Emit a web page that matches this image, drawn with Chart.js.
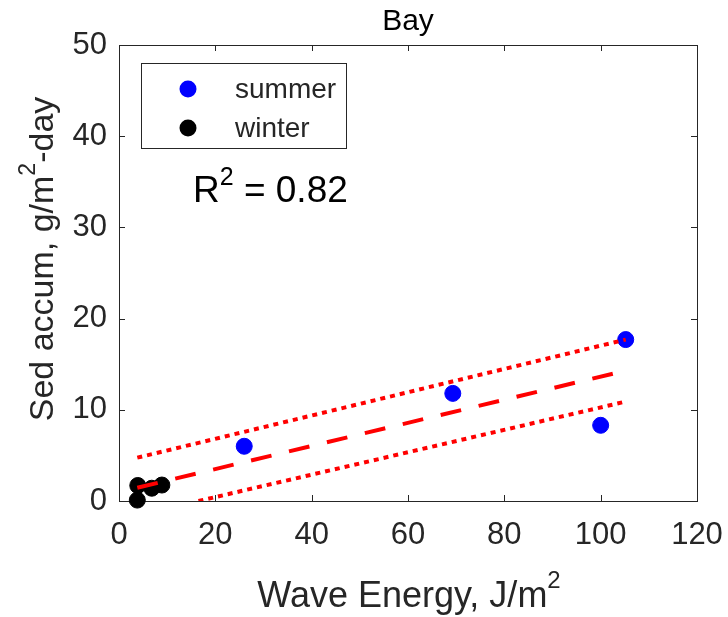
<!DOCTYPE html>
<html>
<head>
<meta charset="utf-8">
<script src="https://cdn.jsdelivr.net/npm/chart.js@4.4.1/dist/chart.umd.min.js"></script>
<style>
  html, body { margin: 0; padding: 0; background: #fff; }
  #wrap { width: 728px; height: 617px; }
</style>
</head>
<body>
<div id="wrap"><canvas id="chart" width="728" height="617"></canvas></div>
<script>
// values
const summerX = [26.0, 69.3, 100.0, 105.2];
const summerY = [6.0, 11.8, 8.3, 17.7];
const winterX = [3.8, 3.9, 6.8, 8.9];
const winterY = [0.1, 1.7, 1.4, 1.75];
const fitX = [3.8, 105.2];
const fitY = [1.45, 14.3];
const upperX = [3.8, 105.2];
const upperY = [4.75, 17.7];
const lowerX = [16.5, 105.2];
const lowerY = [0.0, 10.9];
const xTicks = [0, 20, 40, 60, 80, 100, 120];
const yTicks = [0, 10, 20, 30, 40, 50];
const titleText = 'Bay';
const rSquared = '0.82';

const FONT = "'Liberation Sans', Arial, Helvetica, sans-serif";
const INK = '#262626';

function pts(xs, ys) {
    return xs.map((x, i) => ({ x: x, y: ys[i] }));
}

// text pieces, some superscript, drawn from x (left) on baseline y
function richWidth(ctx, parts, size) {
    let w = 0;
    parts.forEach(p => {
        ctx.font = (p.sup ? Math.round(size * 0.68) : size) + 'px ' + FONT;
        w += ctx.measureText(p.t).width;
    });
    return w;
}
function drawRich(ctx, parts, x, y, size, raise) {
    let cx = x;
    parts.forEach(p => {
        const s = p.sup ? Math.round(size * 0.68) : size;
        ctx.font = s + 'px ' + FONT;
        ctx.fillText(p.t, cx, p.sup ? y - raise : y);
        cx += ctx.measureText(p.t).width;
    });
}

const decorations = {
    id: 'decorations',
    beforeDatasetsDraw(chart) {
        const ctx = chart.ctx;
        const a = chart.chartArea;
        const xs = chart.scales.x, ys = chart.scales.y;
        ctx.save();
        ctx.strokeStyle = INK;
        ctx.lineWidth = 1;
        ctx.strokeRect(Math.round(a.left) + 0.5, Math.round(a.top) + 0.5,
            Math.round(a.right - a.left), Math.round(a.bottom - a.top));
        ctx.beginPath();
        xTicks.forEach(v => {
            const px = Math.round(xs.getPixelForValue(v)) + 0.5;
            ctx.moveTo(px, a.bottom); ctx.lineTo(px, a.bottom - 6);
            ctx.moveTo(px, a.top); ctx.lineTo(px, a.top + 6);
        });
        yTicks.forEach(v => {
            const py = Math.round(ys.getPixelForValue(v)) + 0.5;
            ctx.moveTo(a.left, py); ctx.lineTo(a.left + 6, py);
            ctx.moveTo(a.right, py); ctx.lineTo(a.right - 6, py);
        });
        ctx.stroke();
        ctx.restore();
    },
    afterDraw(chart) {
        const ctx = chart.ctx;
        const a = chart.chartArea;
        ctx.save();
        ctx.fillStyle = INK;
        ctx.textBaseline = 'alphabetic';

        // title
        ctx.font = '30px ' + FONT;
        ctx.textAlign = 'center';
        ctx.fillStyle = '#000';
        ctx.fillText(titleText, (a.left + a.right) / 2, 30);
        ctx.textAlign = 'left';
        ctx.fillStyle = INK;

        // x axis title
        const xParts = [{ t: 'Wave Energy, J/m' }, { t: '2', sup: true }];
        const xw = richWidth(ctx, xParts, 36);
        drawRich(ctx, xParts, 409 - xw / 2, 607, 36, 19);

        // y axis title
        const yParts = [{ t: 'Sed accum, g/m' }, { t: '2', sup: true }, { t: '-day' }];
        const yw = richWidth(ctx, yParts, 34);
        ctx.save();
        ctx.translate(53, 259);
        ctx.rotate(-Math.PI / 2);
        drawRich(ctx, yParts, -yw / 2, 0, 34, 18);
        ctx.restore();

        // R squared note
        ctx.fillStyle = '#000';
        drawRich(ctx, [{ t: 'R' }, { t: '2', sup: true }, { t: ' = ' + rSquared }], 193, 202, 37, 17);

        // legend box
        ctx.strokeStyle = INK;
        ctx.lineWidth = 1;
        ctx.fillStyle = '#fff';
        ctx.fillRect(141.5, 63.5, 205, 85);
        ctx.strokeRect(141.5, 63.5, 205, 85);
        const items = [chart.data.datasets[3], chart.data.datasets[4]];
        const rows = [89, 128];
        items.forEach((ds, i) => {
            ctx.beginPath();
            ctx.fillStyle = ds.backgroundColor;
            ctx.arc(188, rows[i], 8.5, 0, Math.PI * 2);
            ctx.fill();
            ctx.fillStyle = INK;
            ctx.font = '28px ' + FONT;
            ctx.fillText(ds.label, 235, rows[i] + 9);
        });
        ctx.restore();
    }
};

new Chart(document.getElementById('chart'), {
    type: 'scatter',
    data: {
        datasets: [
            {
                label: 'fit',
                data: pts(fitX, fitY),
                showLine: true,
                borderColor: '#ff0000',
                borderWidth: 4,
                borderDash: [21, 18],
                pointRadius: 0
            },
            {
                label: 'upper',
                data: pts(upperX, upperY),
                showLine: true,
                borderColor: '#ff0000',
                borderWidth: 4,
                borderDash: [5, 5],
                pointRadius: 0
            },
            {
                label: 'lower',
                data: pts(lowerX, lowerY),
                showLine: true,
                borderColor: '#ff0000',
                borderWidth: 4,
                borderDash: [5, 5],
                pointRadius: 0
            },
            {
                label: 'summer',
                data: pts(summerX, summerY),
                backgroundColor: '#0000ff',
                borderColor: '#0000ff',
                borderWidth: 1,
                pointRadius: 8,
                clip: false
            },
            {
                label: 'winter',
                data: pts(winterX, winterY),
                backgroundColor: '#000000',
                borderColor: '#000000',
                borderWidth: 1,
                pointRadius: 8,
                clip: false
            },
            {
                label: 'centres',
                data: pts(summerX, summerY),
                backgroundColor: '#000000',
                borderWidth: 0,
                pointRadius: 1.6,
                clip: false
            }
        ]
    },
    options: {
        responsive: false,
        animation: false,
        events: [],
        layout: { padding: { left: 0, top: 45, right: 31, bottom: 0 } },
        plugins: {
            legend: { display: false },
            title: { display: false },
            tooltip: { enabled: false }
        },
        scales: {
            x: {
                type: 'linear',
                min: 0,
                max: 120,
                afterBuildTicks: s => { s.ticks = xTicks.map(v => ({ value: v })); },
                afterFit: s => { s.height = 116; s.paddingLeft = 0; s.paddingRight = 0; },
                grid: { display: false, drawTicks: false },
                border: { display: false },
                ticks: {
                    color: INK,
                    padding: 16,
                    maxRotation: 0,
                    font: { family: FONT, size: 31 }
                }
            },
            y: {
                type: 'linear',
                min: 0,
                max: 50,
                afterBuildTicks: s => { s.ticks = yTicks.map(v => ({ value: v })); },
                afterFit: s => { s.width = 119; s.paddingTop = 0; s.paddingBottom = 0; },
                grid: { display: false, drawTicks: false },
                border: { display: false },
                ticks: {
                    color: INK,
                    padding: 12,
                    font: { family: FONT, size: 31 }
                }
            }
        }
    },
    plugins: [decorations]
});
</script>
</body>
</html>
